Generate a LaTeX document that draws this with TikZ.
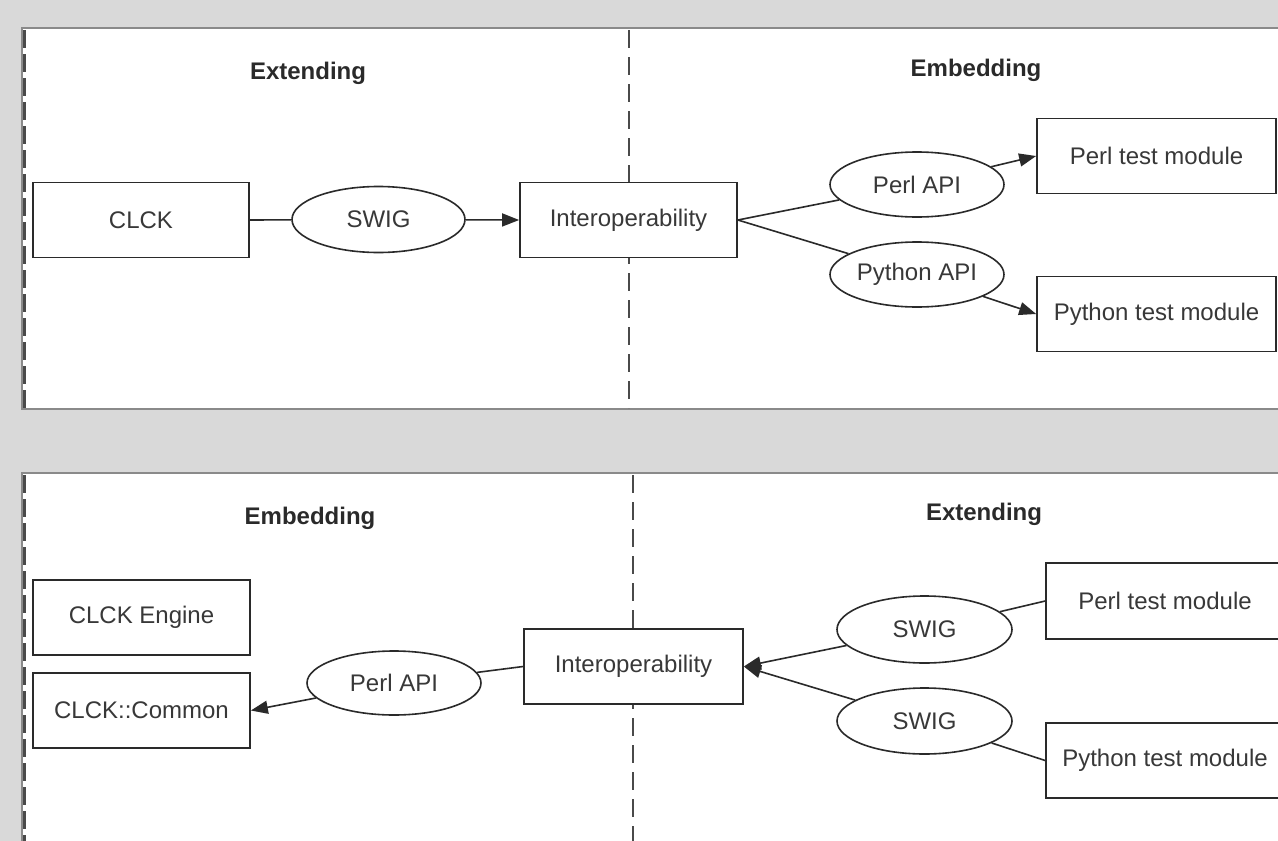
\documentclass[tikz,border=0pt]{standalone}
\usepackage{fontspec}
\setmainfont{Liberation Sans}
\usetikzlibrary{shapes.geometric,arrows.meta}
\definecolor{bggrey}{HTML}{D9D9D9}
\definecolor{panelline}{HTML}{8A8A8A}
\definecolor{ink}{HTML}{2A2A2A}
\definecolor{txt}{HTML}{383838}
\tikzset{
  box/.style={draw=ink, line width=1.7pt, fill=white, rectangle, inner sep=0pt,
    minimum width=#1, minimum height=75pt, text=txt, font=\fontsize{24}{28}\selectfont},
  oval/.style={draw=ink, line width=1.6pt, fill=white, ellipse, inner sep=0pt,
    minimum width=174pt, minimum height=65pt, text=txt, font=\fontsize{24}{28}\selectfont},
  heading/.style={text=ink, font=\fontsize{24}{28}\selectfont\bfseries},
  link/.style={draw=ink, line width=1.6pt},
  flow/.style={link, -{Triangle[length=17pt,width=13pt]}},
  lane/.style={draw=ink!85, line width=1.7pt, dash pattern=on 18pt off 9pt},
  edgelane/.style={draw=ink!85, line width=2.2pt, dash pattern=on 18pt off 6pt},
  panel/.style={draw=panelline, line width=1.5pt, fill=white}
}
\begin{document}
\begin{tikzpicture}[x=1pt,y=-1pt]
\useasboundingbox (0,0) rectangle (1278,841);
\clip (0,0) rectangle (1278,841);
\fill[bggrey] (0,0) rectangle (1278,841);

% upper panel
\path[panel] (22,28) rectangle (1300,409);
\draw[edgelane] (24.5,30) -- (24.5,408);
\draw[lane] (629,30) -- (629,408);
\node[heading] (tExt) at (308,73) {Extending};
\node[heading] (tEmb) at (976,70) {Embedding};

\node[box=216pt] (tclck) at (141,220) {CLCK};
\node[oval, minimum width=173pt, minimum height=66pt] (tswig) at (378.5,219.5) {SWIG};
\node[box=217pt] (tinter) at (628.5,220) {Interoperability};
\node[oval] (tperlapi) at (917,184.5) {Perl API};
\node[oval] (tpyapi) at (917,274.5) {Python API};
\node[box=239pt] (tperlmod) at (1156.5,156) {Perl test module};
\node[box=239pt] (tpymod) at (1156.5,314) {Python test module};

\draw[link] (tclck.east) -- (tswig);
\draw[flow] (tswig) -- (tinter.west);
\draw[link] (tinter.east) -- (tperlapi);
\draw[link] (tinter.east) -- (tpyapi);
\draw[flow] (tperlapi) -- (tperlmod.west);
\draw[flow] (tpyapi) -- (tpymod.west);

% lower panel
\path[panel] (22,473) rectangle (1300,900);
\draw[edgelane] (24.5,475) -- (24.5,845);
\draw[lane] (633,475) -- (633,845);
\node[heading] (bEmb) at (310,518) {Embedding};
\node[heading] (bExt) at (984,514) {Extending};

\node[box=217pt] (bengine) at (141.5,617.5) {CLCK Engine};
\node[box=217pt] (bcommon) at (141.5,710.5) {CLCK::Common};
\node[oval, minimum height=64pt] (bperlapi) at (394,683) {Perl API};
\node[box=219pt] (binter) at (633.5,666.5) {Interoperability};
\node[oval, minimum width=175pt, minimum height=67pt] (bswiga) at (924.5,629.5) {SWIG};
\node[oval, minimum width=175pt, minimum height=66pt] (bswigb) at (924.5,721) {SWIG};
\node[box=238pt, minimum height=76pt] (bperlmod) at (1165,601) {Perl test module};
\node[box=238pt] (bpymod) at (1165,760.5) {Python test module};

\draw[link] (bperlmod.west) -- (bswiga);
\draw[flow] (bswiga) -- (binter.east);
\draw[link] (bpymod.west) -- (bswigb);
\draw[flow] (bswigb) -- (binter.east);
\draw[link] (binter.west) -- (bperlapi);
\draw[flow] (bperlapi) -- (bcommon.east);
\end{tikzpicture}
\end{document}
